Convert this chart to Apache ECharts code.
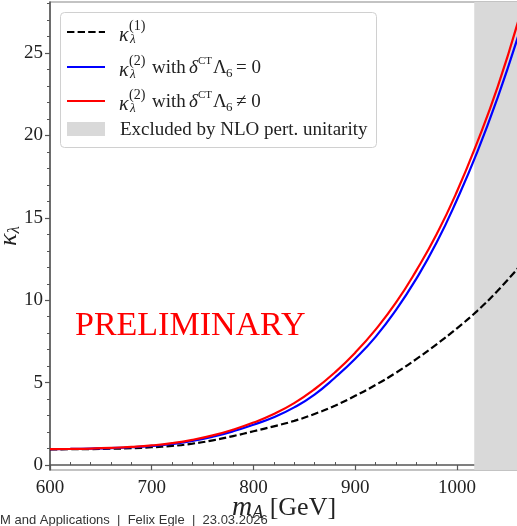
<!DOCTYPE html>
<html>
<head>
<meta charset="utf-8">
<script src="https://cdn.jsdelivr.net/npm/echarts@6/dist/echarts.min.js"></script>
<style>
  html, body { margin: 0; padding: 0; background: #fff; }
  #chart { width: 517px; height: 526px; }
</style>
</head>
<body>
<div id="chart"></div>
<script>
// masses in GeV
const mA = [600, 620, 640, 660, 680, 700, 720, 740, 760, 780, 800, 820, 840,
  860, 880, 900, 920, 940, 960, 980, 1000, 1020, 1040, 1060];
// kappa_lambda^(1)
const kappa1 = [0.95, 0.96, 0.97, 0.99, 1.02, 1.08, 1.16, 1.30, 1.50, 1.76, 2.05, 2.35, 2.68,
  3.10, 3.60, 4.20, 4.86, 5.60, 6.43, 7.33, 8.30, 9.36, 10.58, 11.95];
// kappa_lambda^(2), delta^CT Lambda_6 = 0
const kappa2Zero = [0.97, 0.98, 1.00, 1.03, 1.08, 1.16, 1.28, 1.46, 1.72, 2.05, 2.45, 2.90, 3.50,
  4.28, 5.30, 6.45, 7.78, 9.40, 11.30, 13.50, 16.10, 19.00, 22.30, 26.00];
// kappa_lambda^(2), delta^CT Lambda_6 != 0
const kappa2NonZero = [0.97, 0.98, 1.00, 1.04, 1.10, 1.19, 1.33, 1.53, 1.80, 2.15, 2.58, 3.10, 3.76,
  4.60, 5.62, 6.82, 8.22, 9.85, 11.80, 14.00, 16.60, 19.60, 22.95, 26.90];
// excluded by NLO perturbative unitarity above this mass
const excludedFrom = 1017;

const xMajor = [600, 700, 800, 900, 1000];
const xMinor = [620, 640, 660, 680, 720, 740, 760, 780, 820, 840, 860, 880, 920, 940, 960, 980, 1020, 1040, 1060];
const yMajor = [0, 5, 10, 15, 20, 25];
const yMinor = [1, 2, 3, 4, 6, 7, 8, 9, 11, 12, 13, 14, 16, 17, 18, 19, 21, 22, 23, 24, 26, 27, 28];

const serif = '"Liberation Serif", "DejaVu Serif", serif';
const axisCol = '#555';
const txtCol = '#222';

const pairs = vals => mA.map((m, i) => [m, vals[i]]);

const chart = echarts.init(document.getElementById('chart'));

const xBase = { type: 'value', min: 600, max: 1060, splitLine: { show: false } };
const yBase = { type: 'value', min: -0.3, max: 28.1, splitLine: { show: false } };

// legend drawn as plain graphics so the sub/superscripts sit right
function legendText(x, y, text, size, italic) {
  return {
    type: 'text', x: x, y: y, silent: true,
    style: {
      text: text, fill: txtCol, font: (italic ? 'italic ' : '') + size + 'px ' + serif,
      verticalAlign: 'middle'
    }
  };
}
function kappaLabel(y, order) {
  return [
    legendText(119, y + 4, 'κ', 20, true),
    legendText(129, y - 6, '(' + order + ')', 14, false),
    legendText(130, y + 8, 'λ', 13, true)
  ];
}
function withLabel(y, rel) {
  return [
    legendText(152, y, 'with', 19, false),
    legendText(189, y, 'δ', 19, true),
    legendText(198, y - 7, 'CT', 11, false),
    legendText(213, y, 'Λ', 19, false),
    legendText(226, y + 6, '6', 13, false),
    legendText(236, y, rel + ' 0', 19, false)
  ];
}

const legend = [
  {
    type: 'rect', shape: { x: 60.5, y: 12.5, width: 316, height: 135, r: 4 },
    style: { fill: 'rgba(255,255,255,0.85)', stroke: '#d0d0d0', lineWidth: 1 }, silent: true
  },
  { type: 'line', shape: { x1: 67, y1: 32, x2: 105, y2: 32 }, style: { stroke: '#000', lineWidth: 2.2, lineDash: [7.4, 3.2] }, silent: true },
  { type: 'line', shape: { x1: 67, y1: 67, x2: 105, y2: 67 }, style: { stroke: '#0000ff', lineWidth: 2.2 }, silent: true },
  { type: 'line', shape: { x1: 67, y1: 101, x2: 105, y2: 101 }, style: { stroke: '#ff0000', lineWidth: 2.2 }, silent: true },
  { type: 'rect', shape: { x: 67, y: 122, width: 38, height: 14 }, style: { fill: '#d9d9d9' }, silent: true },
  ...kappaLabel(32, 1),
  ...kappaLabel(67, 2), ...withLabel(68, '='),
  ...kappaLabel(101, 2), ...withLabel(102, '≠'),
  legendText(120, 130, 'Excluded by NLO pert. unitarity', 19, false)
];

const option = {
  animation: false,
  backgroundColor: '#fff',
  grid: {
    left: 50, right: -1, top: 2, bottom: 56, containLabel: false, outerBoundsMode: 'none',
    show: true, borderColor: '#888', borderWidth: 1.2
  },
  xAxis: [
    {
      ...xBase,
      name: '{m|m}{sub|A} [GeV]',
      nameLocation: 'middle',
      nameGap: 24,
      nameMoveOverlap: false,
      nameTextStyle: {
        fontFamily: serif, fontSize: 26, color: txtCol,
        rich: {
          m: { fontFamily: serif, fontSize: 28, fontStyle: 'italic', color: txtCol },
          sub: { fontFamily: serif, fontSize: 18, fontStyle: 'italic', color: txtCol, padding: [10, 0, 0, 0] }
        }
      },
      axisLine: { lineStyle: { color: axisCol, width: 1.5 } },
      axisTick: { customValues: xMajor, length: 5, lineStyle: { color: axisCol, width: 1.2 } },
      axisLabel: {
        customValues: xMajor, margin: 9, fontFamily: serif, fontSize: 19, color: txtCol,
        formatter: v => String(v)
      }
    },
    {
      ...xBase,
      axisLine: { show: false },
      axisTick: { customValues: xMinor, length: 3, lineStyle: { color: axisCol, width: 1 } },
      axisLabel: { show: false }
    }
  ],
  yAxis: [
    {
      ...yBase,
      name: '{k|κ}{sub|λ}',
      nameLocation: 'middle',
      nameGap: 27,
      nameMoveOverlap: false,
      nameTextStyle: {
        rich: {
          k: { fontFamily: serif, fontSize: 26, fontStyle: 'italic', color: txtCol },
          sub: { fontFamily: serif, fontSize: 17, fontStyle: 'italic', color: txtCol, padding: [10, 0, 0, 0] }
        }
      },
      axisLine: { lineStyle: { color: axisCol, width: 1.5 } },
      axisTick: { customValues: yMajor, length: 5, lineStyle: { color: axisCol, width: 1.2 } },
      axisLabel: {
        customValues: yMajor, margin: 7, fontFamily: serif, fontSize: 19, color: txtCol,
        formatter: v => String(v)
      }
    },
    {
      ...yBase,
      position: 'left',
      axisLine: { show: false },
      axisTick: { customValues: yMinor, length: 3, lineStyle: { color: axisCol, width: 1 } },
      axisLabel: { show: false }
    }
  ],
  series: [
    {
      name: 'Excluded by NLO pert. unitarity',
      type: 'line', data: [], z: 1, silent: true,
      markArea: {
        silent: true,
        itemStyle: { color: '#d9d9d9' },
        data: [[{ xAxis: excludedFrom }, { xAxis: 1060 }]]
      }
    },
    {
      name: 'kappa1', type: 'line', smooth: true, showSymbol: false, z: 3,
      data: pairs(kappa1),
      lineStyle: { color: '#000', width: 2.2, type: [7.4, 3.2] }
    },
    {
      name: 'kappa2 zero', type: 'line', smooth: true, showSymbol: false, z: 4,
      data: pairs(kappa2Zero),
      lineStyle: { color: '#0000ff', width: 2.2 }
    },
    {
      name: 'kappa2 nonzero', type: 'line', smooth: true, showSymbol: false, z: 5,
      data: pairs(kappa2NonZero),
      lineStyle: { color: '#ff0000', width: 2.2 }
    }
  ],
  graphic: [
    ...legend,
    {
      type: 'text', x: 75, y: 326, silent: true,
      style: { text: 'PRELIMINARY', fill: '#ff0000', font: '34px ' + serif, verticalAlign: 'middle' }
    },
    {
      type: 'text', x: 0, y: 520, silent: true, z: 100,
      style: {
        text: 'M and Applications  |  Felix Egle  |  23.03.2026',
        fill: '#333', font: '13px "Liberation Sans", Arial, sans-serif', verticalAlign: 'middle'
      }
    }
  ]
};

chart.setOption(option);
</script>
</body>
</html>
